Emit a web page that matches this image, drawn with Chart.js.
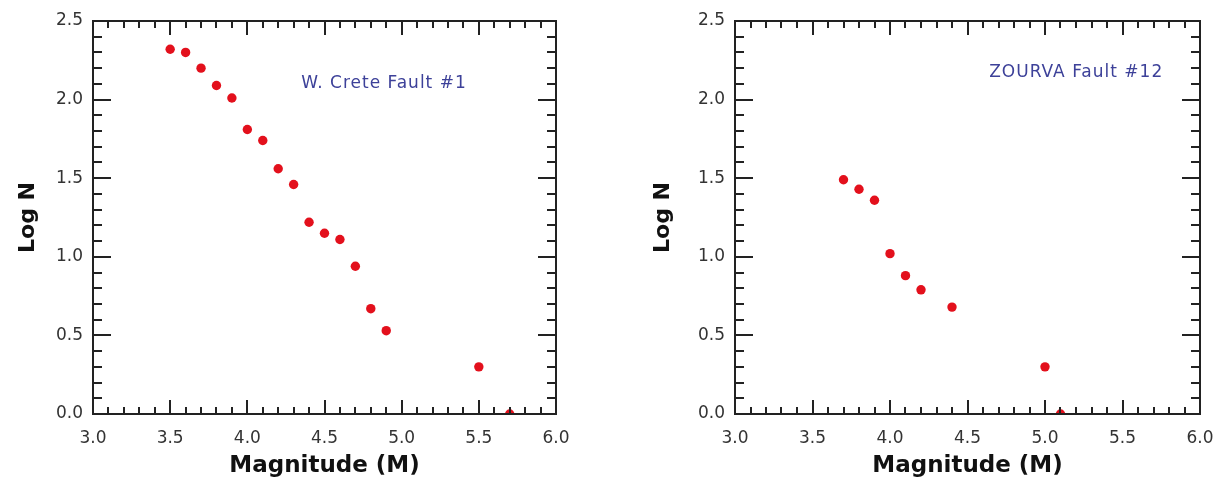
<!DOCTYPE html>
<html>
<head>
<meta charset="utf-8">
<script src="https://cdn.jsdelivr.net/npm/chart.js@4.4.1/dist/chart.umd.min.js"></script>
<style>
  html, body { margin: 0; padding: 0; background: #fff; }
  body { width: 1216px; height: 480px; position: relative; overflow: hidden; }
  .box { position: absolute; top: 0; height: 480px; }
  #b1 { left: 0; width: 608px; }
  #b2 { left: 608px; width: 620px; }
</style>
</head>
<body>
<div class="box" id="b1"><canvas id="c1"></canvas></div>
<div class="box" id="b2"><canvas id="c2"></canvas></div>
<script>
// ---- data ----
const creteMagnitude = [3.5, 3.6, 3.7, 3.8, 3.9, 4.0, 4.1, 4.2, 4.3, 4.4, 4.5, 4.6, 4.7, 4.8, 4.9, 5.5, 5.7];
const creteLogN      = [2.32, 2.30, 2.20, 2.09, 2.01, 1.81, 1.74, 1.56, 1.46, 1.22, 1.15, 1.11, 0.94, 0.67, 0.53, 0.30, 0.0];
const zourvaMagnitude = [3.7, 3.8, 3.9, 4.0, 4.1, 4.2, 4.4, 5.0, 5.1];
const zourvaLogN      = [1.49, 1.43, 1.36, 1.02, 0.88, 0.79, 0.68, 0.30, 0.0];
const xTickRange = [3.0, 6.0];
const yTickRange = [0.0, 2.5];
const labelLeft  = "W. Crete Fault #1";
const labelRight = "ZOURVA Fault #12";
const xTitle = "Magnitude (M)";
const yTitle = "Log N";

const axisColor = '#222';

const frameTicksPlugin = {
  id: 'frameTicks',
  afterDatasetsDraw(chart, args, opts) {
    const ctx = chart.ctx;
    const a = chart.chartArea;
    const xs = chart.scales.x, ys = chart.scales.y;
    ctx.save();
    ctx.strokeStyle = axisColor;
    ctx.lineWidth = 2;
    ctx.beginPath();
    for (let i = 0; i <= 30; i++) {
      const v = xTickRange[0] + i * 0.1;
      const px = Math.round(xs.getPixelForValue(v));
      const major = i % 5 === 0;
      const len = major ? 14 : 7;
      ctx.moveTo(px, a.bottom); ctx.lineTo(px, a.bottom - len);
      ctx.moveTo(px, a.top); ctx.lineTo(px, a.top + len);
    }
    for (let i = 0; i <= 25; i++) {
      const v = yTickRange[0] + i * 0.1;
      const py = Math.round(ys.getPixelForValue(v));
      const major = i % 5 === 0;
      const len = major ? 18 : 9;
      ctx.moveTo(a.left, py); ctx.lineTo(a.left + len, py);
      ctx.moveTo(a.right, py); ctx.lineTo(a.right - len, py);
    }
    ctx.stroke();
    ctx.strokeRect(a.left, a.top, a.right - a.left, a.bottom - a.top);
    if (opts && opts.text) {
      ctx.fillStyle = '#3d4199';
      ctx.font = '17px "DejaVu Sans", Verdana, sans-serif';
      try { ctx.letterSpacing = '1px'; } catch (e) {}
      ctx.textAlign = 'left';
      ctx.textBaseline = 'middle';
      ctx.fillText(opts.text, xs.getPixelForValue(opts.x), ys.getPixelForValue(opts.y));
    }
    ctx.restore();
  }
};

function makeChart(id, xs, ys, yWidth, yTitlePad, rightPad, label, lx, ly) {
  const pts = xs.map((x, i) => ({ x: x, y: ys[i] }));
  return new Chart(document.getElementById(id), {
    type: 'scatter',
    data: { datasets: [{
      data: pts,
      backgroundColor: '#e3101c',
      borderColor: '#e3101c',
      pointRadius: 4.7,
      pointHoverRadius: 4.7,
      borderWidth: 0,
      clip: 0
    }]},
    options: {
      responsive: true,
      maintainAspectRatio: false,
      animation: false,
      events: [],
      layout: { padding: { left: 0, right: rightPad, top: 21, bottom: 0 } },
      plugins: {
        legend: { display: false },
        tooltip: { enabled: false },
        frameTicks: { text: label, x: lx, y: ly }
      },
      scales: {
        x: {
          type: 'linear',
          min: xTickRange[0], max: xTickRange[1],
          grid: { display: false },
          border: { display: false },
          ticks: {
            stepSize: 0.5,
            padding: 6,
            color: '#333',
            font: { family: '"DejaVu Sans", Verdana, sans-serif', size: 17 },
            callback: v => Number(v).toFixed(1),
            maxRotation: 0
          },
          title: {
            display: true, text: xTitle, color: '#111',
            font: { family: '"DejaVu Sans", Verdana, sans-serif', size: 23, weight: 'bold' },
            padding: { top: 0, bottom: 0 }
          },
          afterFit: s => { s.height = 66; }
        },
        y: {
          type: 'linear',
          min: yTickRange[0], max: yTickRange[1],
          grid: { display: false, drawTicks: false },
          border: { display: false },
          ticks: {
            stepSize: 0.5,
            padding: 10,
            color: '#333',
            font: { family: '"DejaVu Sans", Verdana, sans-serif', size: 17 },
            callback: v => Number(v).toFixed(1)
          },
          title: {
            display: true, text: yTitle, color: '#111',
            font: { family: '"DejaVu Sans", Verdana, sans-serif', size: 22, weight: 'bold' },
            padding: { top: yTitlePad, bottom: 0 }
          },
          afterFit: s => { s.width = yWidth; }
        }
      }
    },
    plugins: [frameTicksPlugin]
  });
}

makeChart('c1', creteMagnitude, creteLogN, 93, 15, 52, labelLeft, 4.35, 2.10);
makeChart('c2', zourvaMagnitude, zourvaLogN, 127, 42, 28, labelRight, 4.64, 2.175);
</script>
</body>
</html>
